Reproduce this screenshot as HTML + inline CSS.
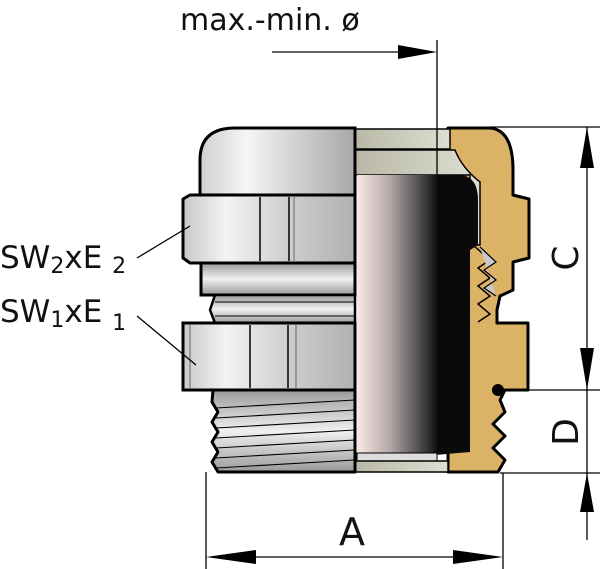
<!DOCTYPE html>
<html><head><style>
html,body{margin:0;padding:0;background:#fff;}
svg{display:block;}
text{font-family:"DejaVu Sans","Liberation Sans",sans-serif;fill:#111;}
</style></head><body>
<svg width="600" height="569" viewBox="0 0 600 569" xmlns="http://www.w3.org/2000/svg">
<defs>
<linearGradient id="metal" x1="0" y1="0" x2="1" y2="0">
<stop offset="0" stop-color="#c9c9c9"/><stop offset="0.25" stop-color="#f4f2f4"/><stop offset="0.6" stop-color="#cfcfcf"/><stop offset="1" stop-color="#b0b0b0"/>
</linearGradient>
<linearGradient id="capg" x1="0" y1="0" x2="1" y2="0">
<stop offset="0" stop-color="#d0d0d0"/><stop offset="0.3" stop-color="#f7f5f7"/><stop offset="0.7" stop-color="#c8c8c8"/><stop offset="1" stop-color="#a8a8a8"/>
</linearGradient>
<linearGradient id="band" x1="0" y1="0" x2="0" y2="1">
<stop offset="0" stop-color="#9a9a9a"/><stop offset="0.5" stop-color="#f0f0f0"/><stop offset="1" stop-color="#9a9a9a"/>
</linearGradient>
<linearGradient id="tube" x1="0" y1="0" x2="1" y2="0">
<stop offset="0" stop-color="#fbe9e2"/><stop offset="0.4" stop-color="#b7a9aa"/><stop offset="0.8" stop-color="#4a4a4a"/><stop offset="1" stop-color="#111"/>
</linearGradient>
<linearGradient id="sect" x1="0" y1="0" x2="1" y2="0">
<stop offset="0" stop-color="#b9b8a6"/><stop offset="1" stop-color="#dedfd2"/>
</linearGradient>
</defs>

<!-- brass body (right section) -->
<path d="M448,128 L490,128 Q513,130 513,170 L513,195 L529,199 L529,258 L513,262 L513,290 L500,296 L497,310 L497,323 L528,323 L528,390 L505,390 L500,400 L505,412 L493,424 L505,436 L493,448 L505,460 L498,472 L448,472 Z" fill="#dcb266" stroke="#000" stroke-width="3" stroke-linejoin="round"/>
<!-- inner thread teeth -->
<path d="M473,245 L490,260 L478,268 L490,278 L478,286 L490,296 L478,304 L490,314 L478,322" fill="none" stroke="#000" stroke-width="1.5"/>
<path d="M480,247 L496,262 L484,270 L496,280 L484,288 L496,296" fill="#c8c8c8" stroke="#000" stroke-width="1.2"/>
<circle cx="498" cy="390" r="6" fill="#000"/>

<!-- section grey bands -->
<rect x="355" y="129" width="95" height="20" fill="url(#sect)" stroke="#000" stroke-width="1.5"/>
<path d="M355,150 L455,150 Q462,168 480,182 L480,245 L470,245 L470,175 L355,175 Z" fill="url(#sect)" stroke="#000" stroke-width="1.5"/>
<!-- black seal -->
<path d="M435,175 L462,175 Q478,178 478,200 L478,245 L470,250 L470,452 L435,455 Z" fill="#0a0a0a"/>
<!-- tube -->
<rect x="357" y="175" width="80" height="278" fill="url(#tube)"/>
<rect x="357" y="453" width="80" height="8" fill="#ddd" stroke="#000" stroke-width="1"/>
<rect x="355" y="461" width="93" height="11" fill="url(#sect)" stroke="#000" stroke-width="1.5"/>

<!-- left: cap -->
<path d="M200,195 L200,160 Q200,128 235,128 L355,128 L355,195 Z" fill="url(#capg)" stroke="#000" stroke-width="3"/>
<!-- upper hex -->
<path d="M190,195 L355,195 L355,263 L190,263 L183,258 L183,199 Z" fill="url(#metal)" stroke="#000" stroke-width="3" stroke-linejoin="round"/>
<line x1="260" y1="197" x2="260" y2="261" stroke="#000" stroke-width="1.5"/>
<line x1="289" y1="197" x2="289" y2="261" stroke="#000" stroke-width="1.5"/>
<line x1="294" y1="197" x2="294" y2="261" stroke="#999" stroke-width="2"/>
<!-- band -->
<rect x="201" y="263" width="154" height="32" fill="url(#band)" stroke="#000" stroke-width="3"/>
<!-- neck -->
<path d="M215,295 L355,295 L355,323 L215,323 L210,310 Z" fill="url(#band)" stroke="#000" stroke-width="2.5"/>
<line x1="215" y1="302" x2="355" y2="302" stroke="#000" stroke-width="1"/>
<line x1="215" y1="316" x2="355" y2="316" stroke="#000" stroke-width="1"/>
<!-- lower hex -->
<rect x="183" y="323" width="172" height="67" fill="url(#metal)" stroke="#000" stroke-width="3"/>
<line x1="190" y1="325" x2="190" y2="388" stroke="#999" stroke-width="2"/>
<line x1="250" y1="325" x2="250" y2="388" stroke="#000" stroke-width="1.5"/>
<line x1="288" y1="325" x2="288" y2="388" stroke="#000" stroke-width="1.5"/>
<line x1="296" y1="325" x2="296" y2="388" stroke="#999" stroke-width="2"/>
<!-- thread -->
<path d="M213,390 L355,390 L355,472 L218,472 L212,462 L218,452 L212,442 L218,432 L212,422 L218,412 L212,402 Z" fill="url(#band)" stroke="#000" stroke-width="3" stroke-linejoin="round"/>
<g stroke="#000" stroke-width="1">
<line x1="216" y1="408" x2="355" y2="400"/><line x1="216" y1="418" x2="355" y2="410"/>
<line x1="216" y1="428" x2="355" y2="420"/><line x1="216" y1="438" x2="355" y2="430"/>
<line x1="216" y1="448" x2="355" y2="440"/><line x1="216" y1="458" x2="355" y2="450"/>
<line x1="216" y1="468" x2="355" y2="460"/>
</g>
<line x1="355" y1="128" x2="355" y2="472" stroke="#000" stroke-width="1.5"/>

<!-- dimension lines -->
<g stroke="#000" stroke-width="1.3" fill="none">
<line x1="437" y1="40" x2="437" y2="175"/>
<line x1="272" y1="52" x2="420" y2="52"/>
<line x1="490" y1="127" x2="600" y2="127"/>
<line x1="527" y1="390" x2="600" y2="390"/>
<line x1="500" y1="473" x2="600" y2="473"/>
<line x1="587" y1="127" x2="587" y2="540"/>
<line x1="206" y1="472" x2="206" y2="569"/>
<line x1="503" y1="473" x2="503" y2="569"/>
<line x1="215" y1="557" x2="495" y2="557"/>
<line x1="137" y1="258" x2="190" y2="226"/>
<line x1="137" y1="316" x2="196" y2="365"/>
</g>
<g fill="#000">
<polygon points="437,52 398,45 398,59"/>
<polygon points="587,127 580,168 594,168"/>
<polygon points="587,390 580,348 594,348"/>
<polygon points="587,473 580,512 594,512"/>
<polygon points="206,557 256,550 256,564"/>
<polygon points="503,557 453,550 453,564"/>
</g>

<!-- labels -->
<text x="180" y="30" font-size="30">max.-min. ø</text>
<text x="0" y="268" font-size="31">SW<tspan font-size="22" dy="5">2</tspan><tspan dy="-5">xE </tspan><tspan font-size="22" dy="5">2</tspan></text>
<text x="0" y="322" font-size="31">SW<tspan font-size="22" dy="5">1</tspan><tspan dy="-5">xE </tspan><tspan font-size="22" dy="8">1</tspan></text>
<text x="352" y="545" font-size="38" text-anchor="middle">A</text>
<text transform="translate(578,258) rotate(-90)" font-size="36" text-anchor="middle">C</text>
<text transform="translate(578,432) rotate(-90)" font-size="36" text-anchor="middle">D</text>
</svg>
</body></html>
